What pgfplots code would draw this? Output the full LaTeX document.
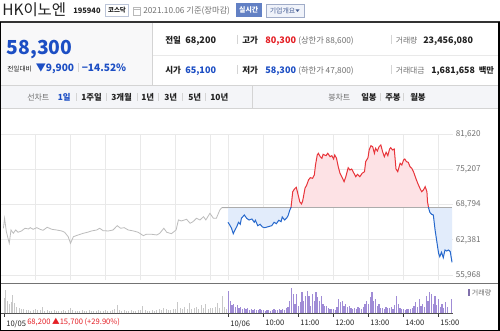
\documentclass[border=0pt]{standalone}
\usepackage{fontspec}
\setmainfont{Noto Sans CJK KR}
\usepackage{pgfplots}
\usepackage{pgfplotstable}
\pgfplotsset{compat=1.18}
\newcommand\fs[1]{\fontsize{#1}{#1}\selectfont}
\definecolor{nblue}{RGB}{28,78,196}
\definecolor{nred}{RGB}{228,30,36}
\definecolor{lineblue}{RGB}{38,104,204}
\definecolor{linered}{RGB}{232,52,58}
\definecolor{fillblue}{RGB}{226,236,251}
\definecolor{fillred}{RGB}{253,226,229}
\definecolor{gline}{RGB}{188,188,188}
\definecolor{vpurple}{RGB}{160,140,214}
\definecolor{vgray}{RGB}{200,200,200}
\definecolor{tabbg}{RGB}{244,245,248}
\definecolor{infobg}{RGB}{248,248,249}
\definecolor{txtgray}{RGB}{112,112,112}
\definecolor{sepgray}{RGB}{212,212,212}
\definecolor{gridgray}{RGB}{233,233,233}
\definecolor{rtblue}{RGB}{98,128,196}
\definecolor{boxbg}{RGB}{240,243,250}
\definecolor{boxline}{RGB}{160,172,200}
\definecolor{boxtext}{RGB}{70,95,150}
\definecolor{dark}{RGB}{34,34,34}

\pgfplotstableread{
m p
-385 64490
-383 66300
-380 63870
-375 61760
-372 64180
-368 63580
-364 64180
-360 63760
-354 64000
-348 64490
-342 64360
-339 64600
-334 64300
-328 64600
-322 64300
-317 64120
-310 64670
-302 64300
-294 64180
-285 64000
-280 63760
-274 62960
-270 61760
-265 62960
-257 63270
-248 63580
-241 63760
-234 64000
-225 64180
-220 64490
-214 64050
-205 64000
-197 64180
-190 64960
-184 64490
-178 64600
-171 64180
-162 64000
-154 63760
-145 63140
-140 63400
-131 63400
-122 63270
-117 63580
-110 64490
-105 63760
-97 63510
-89 64180
-85 66000
-80 65820
-71 66120
-65 65400
-60 65690
-54 66300
-48 66000
-42 66600
-38 66000
-31 67210
-25 66300
-20 66300
-14 67810
-11 68200
0 68200
}\dayA

\pgfplotstableread{
m p
0 65578
3 65087
6 64488
9 63507
12 64179
15 64779
18 65578
21 65214
23 66305
28 66904
32 66305
36 65996
41 66178
45 65578
47 65941
51 64960
55 65214
59 64724
63 64597
69 64779
75 64960
79 65578
83 65324
87 65941
91 65687
93 66541
97 65996
101 66414
103 66777
106 67813
108 68250
111 71138
114 71629
117 71937
121 70229
123 69321
126 68903
128 69449
132 71756
135 72355
138 73264
141 73682
145 73573
148 74173
150 75989
153 77806
155 78115
158 77497
161 77207
163 77933
168 77679
171 78115
175 77497
178 77679
181 77080
183 77806
186 77207
189 75680
192 74480
195 73864
199 72955
202 73864
206 75499
209 75080
212 75262
215 74663
219 73864
222 74300
226 73864
230 74480
234 74772
236 76589
240 77316
242 78715
245 79496
248 79315
251 78115
253 79024
256 78533
259 79315
262 79624
265 78406
268 77497
271 78297
274 77679
277 78897
279 79133
282 78715
285 78897
288 75262
291 74772
295 76298
298 75989
301 76898
303 77080
306 76589
309 76480
312 75680
315 75390
318 74772
321 73864
323 73264
326 72483
329 71756
332 71138
335 71447
338 72047
341 71138
342 69321
344 68122
346 67395
349 67032
352 66904
355 64179
358 62053
361 59945
363 59328
366 60127
369 59146
372 60545
375 60363
378 60545
381 60236
384 58300
}\dayB

\pgfplotstableread{
m v
-384 150
-381 230
-378 120
-375 90
-372 110
-369 180
-366 100
-362 60
-358 50
-354 40
-350 45
-346 30
-342 35
-338 25
-334 30
-330 40
-326 30
-322 35
-318 60
-314 25
-310 30
-306 20
-302 25
-298 30
-294 20
-290 25
-286 20
-282 30
-278 25
-274 35
-270 50
-266 30
-262 20
-258 25
-254 20
-250 30
-246 20
-242 25
-238 30
-234 20
-230 25
-226 20
-222 30
-218 25
-214 20
-210 30
-206 25
-202 20
-198 35
-194 40
-190 80
-186 35
-182 25
-178 30
-174 20
-170 25
-166 30
-162 20
-158 25
-154 30
-150 35
-146 70
-142 30
-138 25
-134 20
-130 30
-126 25
-122 35
-118 40
-114 30
-110 50
-106 40
-102 30
-98 35
-94 40
-90 45
-86 110
-82 50
-78 40
-74 60
-70 45
-66 100
-62 40
-58 50
-54 60
-50 45
-46 80
-42 50
-38 90
-34 45
-30 55
-26 50
-22 60
-18 100
-14 50
-10 170
-6 60
-2 40
}\volA

\pgfplotstableread{
m v
1 227
4 120
7 80
10 90
13 60
16 85
19 55
22 60
25 45
28 50
31 40
34 55
37 35
40 45
43 30
46 40
49 35
52 30
55 40
58 30
61 35
64 25
67 30
70 35
73 25
76 30
79 40
82 30
85 35
88 45
91 30
94 40
97 35
100 50
103 60
106 127
109 253
112 193
115 93
118 193
121 77
124 110
127 210
130 127
133 177
136 227
139 177
142 77
145 193
148 127
151 210
154 160
157 127
160 177
163 93
166 70
169 77
172 50
175 45
178 40
181 45
184 35
187 60
190 143
193 110
196 127
199 70
202 93
205 60
208 77
211 50
214 45
217 55
220 40
223 60
226 50
229 45
232 60
235 90
238 127
241 93
244 160
247 210
250 127
253 143
256 70
259 93
262 50
265 55
268 45
271 60
274 50
277 55
280 60
283 45
286 80
289 177
292 93
295 50
298 40
301 45
304 35
307 40
310 45
313 40
316 55
319 70
322 110
325 60
328 143
331 70
334 93
337 60
340 177
343 120
346 210
349 193
352 90
355 177
358 80
361 143
364 60
367 93
370 50
373 110
376 60
383 143
}\volB

\begin{document}
\begin{tikzpicture}
% ---------- header and panels (px coordinates, y downward) ----------
\begin{scope}[x=0.75pt,y=-0.75pt,shift={(0pt,248.25pt)}]
\fill[white] (0,0) rectangle (500,331);
\fill[infobg] (1.3,23.5) rectangle (152,85);
\fill[tabbg] (1.3,86) rectangle (498,108);
\draw[sepgray,line width=0.6pt] (1,85.7) -- (498,85.7);
\draw[sepgray,line width=0.6pt] (1,108.2) -- (498,108.2);
\draw[sepgray,line width=0.6pt] (252.5,86) -- (252.5,108);
\draw[sepgray,line width=0.6pt] (152.5,23.5) -- (152.5,85);
\draw[gridgray,line width=0.6pt] (153,55.5) -- (498,55.5);
% title row
\node[anchor=base west,inner sep=0,text=dark] at (2,15.5) {\fs{11.6}HK이노엔};
\node[anchor=base west,inner sep=0,text=dark] at (73,14) {\fs{5.6}\bfseries 195940};
\draw[boxline!70,fill=white,line width=0.5pt] (105.5,4.5) rectangle (128.5,16.5);
\node[inner sep=0,text=dark] at (117,10.6) {\fs{4.8}\bfseries 코스닥};
\draw[gray!55,line width=0.5pt] (133,7.5) rectangle (140,15);
\draw[gray!55,line width=0.5pt] (133,9.5) -- (140,9.5);
\node[anchor=base west,inner sep=0,text=txtgray] at (143,13.8) {\fs{6.2}2021.10.06 기준(장마감)};
\fill[rtblue] (236,3.5) rectangle (261.5,17);
\node[inner sep=0,text=white] at (248.7,10.4) {\fs{5.2}\bfseries 실시간};
\draw[boxline,fill=boxbg,line width=0.5pt] (266,4) rectangle (304,17);
\node[anchor=west,inner sep=0,text=boxtext] at (269.5,10.5) {\fs{5.2}기업개요};
\fill[boxtext] (295.5,9.5) -- (299.5,9.5) -- (297.5,12) -- cycle;
\fill[black!80] (0,21.5) rectangle (500,23.5);
% info left
\node[anchor=base west,inner sep=0,text=nblue] at (6.5,55) {\fs{14.5}\bfseries 58,300};
\node[anchor=base west,inner sep=0,text=dark] at (7,71.5) {\fs{5}전일대비};
\node[anchor=base west,inner sep=0,text=nblue] at (35.5,72) {\fs{7.6}\bfseries ▼9,900};
\draw[sepgray,line width=0.6pt] (78,63.5) -- (78,72);
\node[anchor=base west,inner sep=0,text=nblue] at (81.5,72) {\fs{7.6}\bfseries −14.52\%};
% info right rows
\node[anchor=base west,inner sep=0,text=dark] at (165,43.5) {\fs{6.4}\bfseries 전일};
\node[anchor=base west,inner sep=0,text=dark] at (185,43.5) {\fs{6.8}\bfseries 68,200};
\draw[sepgray,line width=0.6pt] (237,35) -- (237,44);
\node[anchor=base west,inner sep=0,text=dark] at (242,43.5) {\fs{6.4}\bfseries 고가};
\node[anchor=base west,inner sep=0,text=nred] at (265,43.5) {\fs{6.8}\bfseries 80,300};
\node[anchor=base west,inner sep=0,text=txtgray] at (298,43.5) {\fs{6.2}(상한가 88,600)};
\draw[sepgray,line width=0.6pt] (391.5,35) -- (391.5,44);
\node[anchor=base west,inner sep=0,text=txtgray] at (395.5,43.5) {\fs{5.9}거래량};
\node[anchor=base west,inner sep=0,text=dark] at (423,43.5) {\fs{6.7}\bfseries 23,456,080};
\node[anchor=base west,inner sep=0,text=dark] at (165,74) {\fs{6.4}\bfseries 시가};
\node[anchor=base west,inner sep=0,text=nblue] at (185,74) {\fs{6.8}\bfseries 65,100};
\draw[sepgray,line width=0.6pt] (237,65.5) -- (237,74.5);
\node[anchor=base west,inner sep=0,text=dark] at (242,74) {\fs{6.4}\bfseries 저가};
\node[anchor=base west,inner sep=0,text=nblue] at (265,74) {\fs{6.8}\bfseries 58,300};
\node[anchor=base west,inner sep=0,text=txtgray] at (298,74) {\fs{6.2}(하한가 47,800)};
\draw[sepgray,line width=0.6pt] (391.5,65.5) -- (391.5,74.5);
\node[anchor=base west,inner sep=0,text=txtgray] at (395.5,74) {\fs{5.9}거래대금};
\node[anchor=base west,inner sep=0,text=dark] at (431,74) {\fs{6.6}\bfseries 1,681,658};
\node[anchor=base west,inner sep=0,text=dark] at (478.5,74) {\fs{6.2}\bfseries 백만};
% tabs
\node[anchor=base west,inner sep=0,text=txtgray] at (27,100.5) {\fs{6}선차트};
\node[anchor=base west,inner sep=0,text=nblue] at (57.5,100.5) {\fs{6.3}\bfseries 1일};
\node[anchor=base west,inner sep=0,text=dark] at (81,100.5) {\fs{6.3}\bfseries 1주일};
\node[anchor=base west,inner sep=0,text=dark] at (111,100.5) {\fs{6.3}\bfseries 3개월};
\node[anchor=base west,inner sep=0,text=dark] at (141,100.5) {\fs{6.3}\bfseries 1년};
\node[anchor=base west,inner sep=0,text=dark] at (164,100.5) {\fs{6.3}\bfseries 3년};
\node[anchor=base west,inner sep=0,text=dark] at (188,100.5) {\fs{6.3}\bfseries 5년};
\node[anchor=base west,inner sep=0,text=dark] at (210,100.5) {\fs{6.3}\bfseries 10년};
\foreach \sx in {76,106,137,158,182,205,380,403}{
  \draw[sepgray,line width=0.6pt] (\sx,93.5) -- (\sx,101.5);}
\node[anchor=base west,inner sep=0,text=txtgray] at (328,100.5) {\fs{6}봉차트};
\node[anchor=base west,inner sep=0,text=dark] at (361,100.5) {\fs{6.3}\bfseries 일봉};
\node[anchor=base west,inner sep=0,text=dark] at (385,100.5) {\fs{6.3}\bfseries 주봉};
\node[anchor=base west,inner sep=0,text=dark] at (410,100.5) {\fs{6.3}\bfseries 월봉};
\end{scope}

% ---------- price axis ----------
\begin{axis}[
  at={(0.375pt,37.875pt)}, anchor=south west,
  scale only axis, width=339.5pt, height=109.875pt,
  xmin=-390, xmax=386, ymin=55000, ymax=81620,
  axis line style={draw=none},
  xtick={-330,-270,-210,-150,-90,-30,0,60,120,180,240,300,360},
  xticklabels={},
  ytick={55968,62381,68794,75207,81620},
  yticklabels={{55,968},{62,381},{68,794},{75,207},{81,620}},
  scaled y ticks=false,
  yticklabel pos=right,
  major tick length=0pt,
  grid=major,
  grid style={draw=gridgray,line width=0.6pt},
  yticklabel style={font=\fs{6.1}, text=txtgray, anchor=west, xshift=-1.5pt},
  clip=true,
]
\addplot[gline, line width=0.6pt] table[x=m,y=p]{\dayA};
\begin{scope}
\clip (axis cs:-5,68200) rectangle (axis cs:400,90000);
\addplot[fill=fillred, draw=none] table[x=m,y=p]{\dayB} -- (axis cs:384,68200) -- (axis cs:0,68200) -- cycle;
\end{scope}
\begin{scope}
\clip (axis cs:-5,40000) rectangle (axis cs:400,68200);
\addplot[fill=fillblue, draw=none] table[x=m,y=p]{\dayB} -- (axis cs:384,68200) -- (axis cs:0,68200) -- cycle;
\end{scope}
\addplot[draw={rgb,255:red,172;green,172;blue,172}, line width=0.6pt] coordinates {(-11,68200) (384,68200)};
\begin{scope}
\clip (axis cs:-5,68200) rectangle (axis cs:400,90000);
\addplot[linered, line width=0.75pt] table[x=m,y=p]{\dayB};
\end{scope}
\begin{scope}
\clip (axis cs:-5,40000) rectangle (axis cs:400,68200);
\addplot[lineblue, line width=0.75pt] table[x=m,y=p]{\dayB};
\end{scope}
\end{axis}

% ---------- volume axis ----------
\begin{axis}[
  at={(0.375pt,13.275pt)}, anchor=south west,
  scale only axis, width=339.5pt, height=21.975pt,
  xmin=-390, xmax=386, ymin=0, ymax=293,
  axis x line*=bottom, axis y line=none,
  x axis line style={draw={rgb,255:red,80;green,80;blue,80}, line width=0.6pt},
  xtick={-384,0,60,120,180,240,300,360},
  xticklabels={10/05,10/06,10:00,11:00,12:00,13:00,14:00,15:00},
  ytick=\empty,
  tick align=outside, major tick length=2.6pt,
  tick style={draw={rgb,255:red,60;green,60;blue,60}, line width=0.6pt},
  xticklabel style={font=\fs{5.7}, text=dark, anchor=north west, xshift=-1.8pt, yshift=1pt},
  clip=false,
]
\addplot[ycomb, draw=vgray, line width=0.6pt] table[x=m,y=v]{\volA};
\addplot[ycomb, draw=vpurple, line width=0.9pt] table[x=m,y=v]{\volB};
\end{axis}

% ---------- overlays ----------
\begin{scope}[x=0.75pt,y=-0.75pt,shift={(0pt,248.25pt)}]
\draw[black!55,line width=0.8pt] (1,283.6) -- (498,283.6);
\fill[vpurple!80!black] (468,289.5) rectangle (469.6,296);
\node[anchor=base west,inner sep=0,text=txtgray] at (471.5,296) {\fs{5.3}거래량};
\node[anchor=base west,inner sep=0,text=nred] at (27,324.5) {\fs{5.7}68,200 ▲15,700 (+29.90\%)};
\draw[black,line width=1pt] (0.7,22) -- (0.7,330.4) -- (498.9,330.4) -- (498.9,22);
\end{scope}
\pgfresetboundingbox
\path[use as bounding box] (0pt,0pt) rectangle (375pt,248.25pt);
\end{tikzpicture}
\end{document}
